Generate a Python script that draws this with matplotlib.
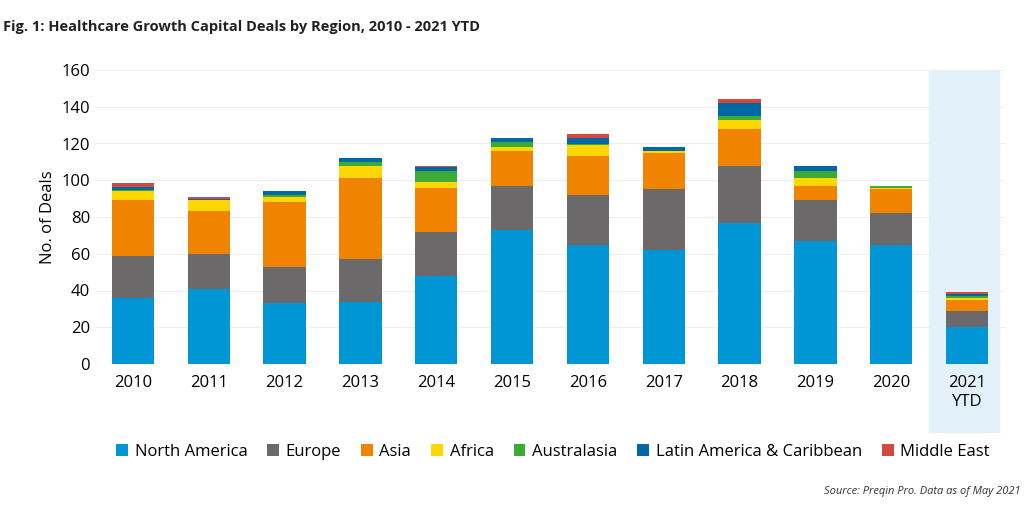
import matplotlib.pyplot as plt
import numpy as np
from matplotlib.patches import Rectangle

plt.rcParams['font.family'] = ['Open Sans', 'DejaVu Sans']

years = ['2010', '2011', '2012', '2013', '2014', '2015', '2016', '2017', '2018', '2019', '2020', '2021\nYTD']
north_america = [36, 41, 33, 34, 48, 73, 65, 62, 77, 67, 65, 20]
europe = [23, 19, 20, 23, 24, 24, 27, 33, 31, 22, 17, 9]
asia = [30, 23, 35, 44, 24, 19, 21, 20, 20, 8, 13, 6]
africa = [5, 6, 3, 7, 3, 2, 6, 1, 5, 4, 1, 1]
australasia = [0.5, 0, 1, 2, 6, 3, 1, 0, 2, 4, 1, 1]
latin_america = [2, 1, 2, 2, 2, 2, 3, 2, 7, 3, 0, 1]
middle_east = [2, 1, 0, 0, 1, 0, 2, 0, 2, 0, 0, 1]

series = [
    ('North America', north_america, '#0096D6'),
    ('Europe', europe, '#6B6969'),
    ('Asia', asia, '#F08300'),
    ('Africa', africa, '#FFD700'),
    ('Australasia', australasia, '#3DAA35'),
    ('Latin America & Caribbean', latin_america, '#0068A5'),
    ('Middle East', middle_east, '#D04A3F'),
]

fig = plt.figure(figsize=(10.24, 5.12), dpi=100)
ax = fig.add_axes([95 / 1024, 148 / 512, 910 / 1024, 294 / 512])

x = np.arange(len(years))
bottom = np.zeros(len(years))
for name, vals, col in series:
    ax.bar(x, vals, 0.56, bottom=bottom, color=col, label=name, zorder=3)
    bottom += np.array(vals)

# highlight for the partial year
ax.add_patch(Rectangle((10.5, -37), 0.92, 197, color='#E3F2FA', zorder=0, clip_on=False))

ax.set_xlim(-0.5, 11.5)
ax.set_ylim(0, 160)
ax.set_yticks(range(0, 161, 20))
ax.set_xticks(x)
ax.set_xticklabels(years, fontsize=12)
ax.tick_params(axis='y', labelsize=12, length=0)
ax.tick_params(axis='x', length=0, pad=8)
ax.grid(axis='y', color='#EEEEEE', lw=0.8, zorder=1)
for s in ax.spines.values():
    s.set_visible(False)
ax.set_ylabel('No. of Deals', fontsize=12)

fig.text(0.003, 0.94, 'Fig. 1: Healthcare Growth Capital Deals by Region, 2010 - 2021 YTD',
         fontsize=10.5, fontweight='bold', color='#222222')
fig.legend(loc='center', bbox_to_anchor=(0.54, 0.117), ncol=7, frameon=False,
           fontsize=12, handlelength=0.7, handleheight=0.7, columnspacing=1.2, handletextpad=0.4)
fig.text(0.997, 0.035, 'Source: Preqin Pro. Data as of May 2021', ha='right',
         fontsize=8, style='italic', color='#333333')

fig.savefig('out.png', dpi=100)
